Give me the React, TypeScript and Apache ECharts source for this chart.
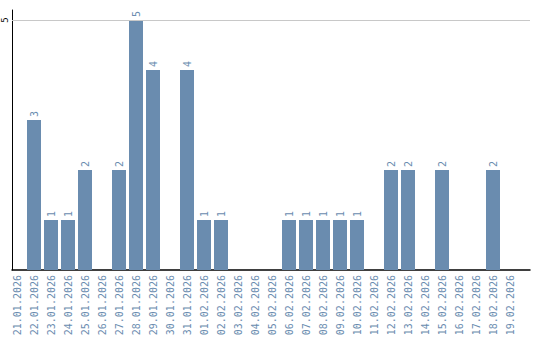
import React, { useEffect, useRef } from "react";
import * as echarts from "echarts";

const categories = [
  "21.01.2026", "22.01.2026", "23.01.2026", "24.01.2026", "25.01.2026", "26.01.2026",
  "27.01.2026", "28.01.2026", "29.01.2026", "30.01.2026", "31.01.2026", "01.02.2026",
  "02.02.2026", "03.02.2026", "04.02.2026", "05.02.2026", "06.02.2026", "07.02.2026",
  "08.02.2026", "09.02.2026", "10.02.2026", "11.02.2026", "12.02.2026", "13.02.2026",
  "14.02.2026", "15.02.2026", "16.02.2026", "17.02.2026", "18.02.2026", "19.02.2026",
];
const values = [0, 3, 1, 1, 2, 0, 2, 5, 4, 0, 4, 1, 1, 0, 0, 0, 1, 1, 1, 1, 1, 0, 2, 2, 0, 2, 0, 0, 2, 0];
const yTicks = [5];

const BLUE = "#6a8caf";
const FONT = "DejaVu Sans Mono";

export default function App() {
  const ref = useRef<HTMLDivElement>(null);
  useEffect(() => {
    if (!ref.current) return;
    const chart = echarts.init(ref.current, undefined, { renderer: "svg" });
    chart.setOption({
      animation: false,
      grid: [
        { left: 10, right: 10, top: 10, bottom: 70 },
        { left: 8.5, width: 510, top: 10, bottom: 70 },
      ],
      xAxis: [
        {
          gridIndex: 0,
          type: "value",
          min: 0,
          max: 1,
          axisLine: { show: true, lineStyle: { color: "#000", width: 1.5 } },
          axisTick: { show: false },
          axisLabel: { show: false },
          splitLine: { show: false },
        },
        {
          gridIndex: 1,
          type: "category",
          data: categories,
          axisLine: { show: false },
          axisTick: { show: false },
          axisLabel: {
            interval: 0,
            rotate: 90,
            color: BLUE,
            fontFamily: FONT,
            fontSize: 10,
            margin: 5,
          },
        },
      ],
      yAxis: [
        {
          gridIndex: 0,
          type: "value",
          min: 0,
          max: 5.2,
          interval: 5,
          axisLine: { show: true, lineStyle: { color: "#000", width: 1 } },
          axisTick: { show: false },
          axisLabel: {
            rotate: 90,
            color: "#000",
            fontFamily: FONT,
            fontSize: 9,
            margin: 3,
            showMaxLabel: false,
            formatter: (v: number) => (yTicks.includes(v) ? String(v) : ""),
          },
          splitLine: { show: false },
        },
        {
          gridIndex: 1,
          type: "value",
          min: 0,
          max: 5.2,
          show: false,
        },
      ],
      series: [
        {
          type: "line",
          xAxisIndex: 0,
          yAxisIndex: 0,
          data: [],
          markLine: {
            silent: true,
            symbol: "none",
            label: { show: false },
            lineStyle: { color: "#c8c8c8", width: 1, type: "solid" },
            data: yTicks.map((t) => ({ yAxis: t })),
          },
        },
        {
          type: "bar",
          xAxisIndex: 1,
          yAxisIndex: 1,
          data: values,
          barWidth: 14,
          itemStyle: { color: BLUE },
          label: {
            show: true,
            position: "top",
            rotate: 90,
            align: "left",
            verticalAlign: "middle",
            distance: 3,
            color: BLUE,
            fontFamily: FONT,
            fontSize: 10,
            formatter: (p: any) => (p.value ? String(p.value) : ""),
          },
        },
      ],
    });
    return () => chart.dispose();
  }, []);
  return (
    <div
      ref={ref}
      style={{ position: "fixed", left: 0, top: 0, width: 540, height: 340, background: "#fff" }}
    />
  );
}
